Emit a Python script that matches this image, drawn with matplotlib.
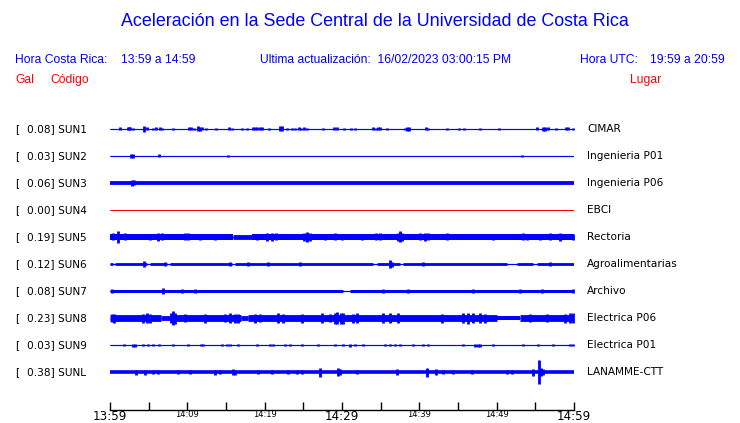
import numpy as np
import matplotlib
matplotlib.use('Agg')
import matplotlib.pyplot as plt
from matplotlib.transforms import blended_transform_factory

# station table (top to bottom)
codes = ['SUN1', 'SUN2', 'SUN3', 'SUN4', 'SUN5', 'SUN6', 'SUN7', 'SUN8', 'SUN9', 'SUNL']
places = ['CIMAR', 'Ingenieria P01', 'Ingenieria P06', 'EBCI', 'Rectoria',
          'Agroalimentarias', 'Archivo', 'Electrica P06', 'Electrica P01', 'LANAMME-CTT']
peak_gal = [0.08, 0.03, 0.06, 0.00, 0.19, 0.12, 0.08, 0.23, 0.03, 0.38]
trace_colors = ['blue', 'blue', 'blue', 'red', 'blue', 'blue', 'blue', 'blue', 'blue', 'blue']

# background envelope half-width of every trace (pixels)
base_half = [0.6, 0.6, 1.9, 0.5, 3.0, 1.4, 1.5, 3.4, 0.6, 1.8]

# quieter stretches: (start min, end min, half-width px)
quiet = {
    'SUN5': [(15.9, 18.4, 2.4)],
    'SUN6': [(0.4, 0.7, 0.6), (4.8, 5.2, 0.6), (7.4, 7.8, 0.6), (15.8, 16.2, 0.6),
             (34.0, 34.5, 0.6), (37.5, 37.9, 0.6), (51.3, 52.6, 0.6), (54.7, 55.2, 0.6)],
    'SUN7': [(30.1, 31.0, 0.6)],
    'SUN8': [(6.6, 7.7, 2.4), (17.0, 17.8, 2.4), (50.0, 53.0, 2.0)],
}

# bursts: (minute after 13:59, half amplitude px)
bursts = {
    'SUN1': [(1.3, 1.5), (2.3, 1.5), (2.5, 1.5), (2.6, 1.5), (3.0, 1.2), (4.4, 2.7), (4.8, 1.5),
             (5.6, 1.2), (5.9, 1.5), (6.5, 1.5), (6.7, 1.2), (8.1, 1.2), (10.2, 1.5), (10.5, 1.5),
             (10.9, 1.2), (11.4, 2.5), (11.6, 2.2), (11.9, 1.5), (12.4, 1.2), (13.7, 1.2),
             (15.4, 1.5), (15.8, 1.2), (17.1, 1.2), (17.7, 1.0), (18.5, 1.5), (18.7, 1.5),
             (19.0, 1.5), (19.4, 1.5), (19.7, 1.5), (20.6, 1.2), (22.0, 2.5), (22.2, 2.5),
             (22.9, 1.2), (23.5, 1.0), (23.9, 1.0), (24.4, 1.5), (24.7, 1.2), (25.1, 1.5),
             (25.5, 1.0), (27.5, 1.0), (29.0, 1.5), (29.4, 1.5), (30.3, 1.2), (31.2, 1.0),
             (31.7, 1.0), (34.0, 1.5), (34.4, 1.2), (34.7, 1.5), (34.9, 1.5), (35.8, 1.0),
             (38.1, 1.2), (38.4, 2.3), (38.7, 2.0), (40.9, 1.5), (41.1, 1.2), (43.6, 1.2),
             (45.1, 1.2), (45.8, 1.2), (47.8, 1.2), (50.3, 1.0), (55.2, 1.5), (56.0, 2.2),
             (56.2, 2.2), (56.6, 1.5), (57.7, 1.0), (59.0, 1.5), (59.2, 1.5), (59.9, 1.2)],
    'SUN2': [(2.7, 2.0), (3.0, 2.0), (6.3, 1.5), (15.3, 1.0), (53.3, 1.0)],
    'SUN3': [(2.8, 2.8), (3.1, 2.5)],
    'SUN4': [],
    'SUN5': [(0.4, 3.5), (1.0, 6.0), (1.9, 3.5), (5.2, 3.3), (6.2, 3.8), (6.7, 3.5), (9.7, 3.5),
             (10.1, 3.5), (11.6, 3.2), (13.6, 3.2), (19.0, 3.3), (20.3, 4.0), (21.0, 4.0),
             (21.5, 3.5), (25.1, 3.8), (25.5, 4.5), (25.9, 4.0), (27.8, 3.3), (29.1, 3.5),
             (30.0, 3.2), (32.6, 3.2), (34.4, 3.5), (34.9, 3.5), (37.2, 4.0), (37.5, 5.5),
             (37.8, 4.0), (40.1, 3.5), (40.7, 4.0), (41.1, 3.5), (43.6, 3.5), (49.5, 3.2),
             (53.4, 3.5), (53.9, 3.3), (55.6, 3.2), (56.9, 3.5), (58.2, 4.2), (59.9, 3.2)],
    'SUN6': [(4.4, 3.0), (7.1, 2.0), (15.5, 1.8), (17.8, 2.0), (20.4, 2.0), (24.6, 1.8),
             (36.2, 4.0), (36.5, 2.5), (40.5, 2.2), (56.9, 2.0)],
    'SUN7': [(0.3, 2.0), (6.9, 3.0), (9.3, 2.2), (11.0, 1.8), (35.3, 2.0), (38.5, 2.0),
             (47.0, 2.0), (53.0, 1.8), (55.9, 2.0), (59.9, 1.8)],
    'SUN8': [(0.3, 4.0), (0.5, 4.5), (4.3, 4.5), (4.8, 5.0), (5.2, 4.5), (7.9, 5.0), (8.1, 7.0),
             (8.4, 5.5), (9.7, 4.2), (12.3, 4.5), (14.9, 4.2), (15.5, 5.0), (16.2, 4.5),
             (16.6, 4.5), (18.7, 4.5), (19.4, 4.2), (21.7, 5.0), (22.4, 4.5), (24.8, 4.5),
             (27.4, 5.0), (28.4, 4.2), (29.1, 5.5), (29.4, 6.0), (29.9, 5.5), (30.1, 5.5),
             (31.4, 4.5), (31.9, 5.0), (35.3, 5.0), (36.2, 4.8), (37.2, 5.0), (42.9, 4.5),
             (45.6, 5.0), (46.3, 5.5), (46.9, 5.0), (47.8, 5.0), (48.5, 4.5), (54.3, 4.0),
             (56.5, 3.8), (58.8, 4.5), (59.5, 5.0), (59.9, 5.0)],
    'SUN9': [(1.8, 1.3), (3.0, 1.5), (3.2, 1.5), (4.3, 1.3), (4.9, 1.3), (5.6, 1.3), (6.3, 1.3),
             (8.1, 1.3), (10.1, 1.3), (11.8, 1.3), (12.0, 1.3), (14.5, 1.3), (15.1, 1.3),
             (15.5, 1.3), (16.6, 1.3), (19.0, 1.3), (20.7, 1.3), (21.1, 1.3), (22.6, 1.3),
             (23.3, 1.3), (24.8, 1.3), (26.9, 1.3), (29.1, 1.3), (30.1, 1.3), (31.0, 1.5),
             (31.7, 1.3), (32.7, 1.3), (35.6, 1.3), (36.2, 1.3), (36.9, 1.3), (37.5, 1.3),
             (39.2, 1.3), (40.5, 1.3), (41.1, 1.3), (45.6, 1.3), (47.2, 1.5), (47.6, 1.5),
             (47.8, 1.5), (49.5, 1.3), (53.4, 1.3), (55.3, 1.3), (57.3, 1.3), (59.5, 1.3),
             (59.9, 1.3)],
    'SUNL': [(3.4, 2.5), (4.5, 2.5), (5.6, 2.0), (6.2, 2.0), (8.8, 2.0), (10.3, 2.0), (13.6, 2.5),
             (14.2, 2.0), (15.9, 2.8), (16.2, 2.5), (19.1, 2.0), (20.9, 2.0), (23.0, 2.0),
             (24.2, 2.0), (24.8, 2.0), (27.2, 4.5), (29.5, 4.0), (29.7, 3.0), (31.9, 2.0),
             (37.1, 3.0), (41.0, 4.5), (42.2, 3.0), (43.1, 2.2), (44.4, 2.2), (46.8, 2.2),
             (51.3, 2.2), (52.0, 2.0), (54.7, 3.5), (55.5, 12.0), (55.7, 4.0), (56.0, 3.0)],
}

tick_minutes = [0, 5, 10, 15, 20, 25, 30, 35, 40, 45, 50, 55, 60]
tick_labels = ['13:59', '', '14:09', '', '14:19', '', '14:29', '', '14:39', '', '14:49', '', '14:59']
big_labels = ['13:59', '14:29', '14:59']

W, H = 740, 423
ROW_PX = 27.0
PT = 0.72  # points per pixel at dpi 100

fig = plt.figure(figsize=(W / 100, H / 100), dpi=100)

def fx(px):
    return px / W

def fy(py):
    return 1 - py / H

# traces
ax = fig.add_axes([fx(110), fy(385.5), fx(574) - fx(110), 270 / H])
ax.set_xlim(0, 60)
ax.set_ylim(len(codes) - 0.5, -0.5)
ax.axis('off')

for i, code in enumerate(codes):
    c = trace_colors[i]
    ax.plot([0, 60], [i, i], color=c, lw=1.0 * PT, solid_capstyle='butt')
    segs = sorted(quiet.get(code, []))
    start = 0.0
    for a, b, h in segs:
        ax.plot([start, a], [i, i], color=c, lw=2 * base_half[i] * PT, solid_capstyle='butt')
        ax.plot([a, b], [i, i], color=c, lw=2 * h * PT, solid_capstyle='butt')
        start = b
    ax.plot([start, 60], [i, i], color=c, lw=2 * base_half[i] * PT, solid_capstyle='butt')
    if bursts[code]:
        t = np.array([b[0] for b in bursts[code]])
        amp = np.array([b[1] for b in bursts[code]]) / ROW_PX
        ax.vlines(t, i - amp, i + amp, color=c, lw=2.0, clip_on=False)

# labels by row
tr = blended_transform_factory(fig.transFigure, ax.transData)
for i, code in enumerate(codes):
    ax.text(fx(15), i, '[', transform=tr, fontsize=7.6, va='center', ha='left',
            family='DejaVu Sans', color='black')
    ax.text(fx(27), i, f'{peak_gal[i]:.2f}] {code}', transform=tr, fontsize=7.6,
            va='center', ha='left', family='DejaVu Sans', color='black')
    ax.text(fx(587), i, places[i], transform=tr, fontsize=7.6, va='center', ha='left',
            family='DejaVu Sans', color='black')

# time axis
tax = fig.add_axes([fx(110), fy(409.5), fx(574) - fx(110), 9 / H])
tax.set_xlim(0, 60)
tax.set_yticks([])
for s in ['top', 'left', 'right']:
    tax.spines[s].set_visible(False)
tax.spines['bottom'].set_linewidth(1.0)
tax.patch.set_alpha(0)
tax.set_xticks(tick_minutes)
tax.set_xticklabels(tick_labels)
tax.tick_params(axis='x', direction='in', length=8 * PT, width=1.0, pad=0.3)
for lab in tax.get_xticklabels():
    lab.set_family('DejaVu Sans')
    lab.set_fontsize(8.6 if lab.get_text() in big_labels else 6)

# header texts
hdr = dict(family='Liberation Sans', fontsize=8.7, color='blue', va='center')
fig.text(0.507, fy(22), 'Aceleración en la Sede Central de la Universidad de Costa Rica',
         family='Liberation Sans', fontsize=12.9, color='blue', ha='center', va='center')
fig.text(fx(15), fy(60), 'Hora Costa Rica:', **hdr)
fig.text(fx(121), fy(60), '13:59 a 14:59', **hdr)
fig.text(fx(260), fy(60), 'Ultima actualización:  16/02/2023 03:00:15 PM', **hdr)
fig.text(fx(580), fy(60), 'Hora UTC:', **hdr)
fig.text(fx(650), fy(60), '19:59 a 20:59', **hdr)

red = dict(family='Liberation Sans', fontsize=8.7, color='red', va='center')
fig.text(fx(15), fy(80), 'Gal', **red)
fig.text(fx(50), fy(80), 'Código', **red)
fig.text(fx(630), fy(80), 'Lugar', **red)

fig.savefig('out.png', dpi=100)
